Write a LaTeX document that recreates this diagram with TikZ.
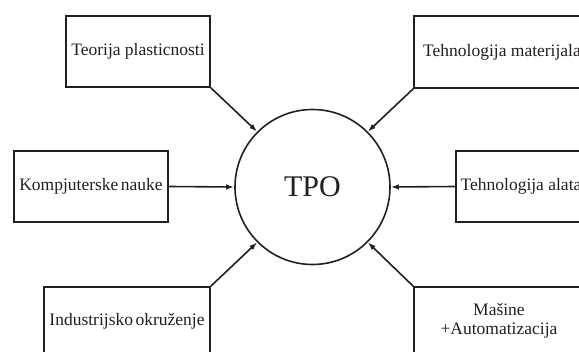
\documentclass[tikz,border=0pt]{standalone}
\usepackage{fontspec}
\setmainfont{Liberation Serif}
\usetikzlibrary{arrows.meta}
\definecolor{ink}{HTML}{231F20}
\tikzset{
  box/.style={draw=ink, line width=1.6pt, rectangle, inner sep=0pt, text=ink,
    font=\fontsize{17.5}{20}\selectfont, align=center},
  hub/.style={draw=ink, line width=1.6pt, circle, minimum size=155pt, inner sep=0pt,
    text=ink, font=\fontsize{30}{34}\selectfont},
  conn/.style={draw=ink, line width=1.6pt, -{Latex[length=8pt,width=5.5pt]}}
}
\begin{document}
\begin{tikzpicture}[x=1pt,y=-1pt]
\useasboundingbox (0,0) rectangle (579,352);
\clip (0,0) rectangle (579,352);
\node[hub] (c) at (312.5,187) {TPO};
\node[box, minimum width=144pt, minimum height=71pt] (b1) at (138,51.5) {Teorija plasticnosti};
\node[box, minimum width=176pt, minimum height=72pt] (b2) at (502,52) {Tehnologija materijala};
\node[box, minimum width=154pt, minimum height=71pt] (b3) at (91,186.5) {Kompjuterske\hspace{2.5pt}nauke};
\node[box, minimum width=130pt, minimum height=71pt] (b4) at (521,186.5) {Tehnologija alata};
\node[box, minimum width=166pt, minimum height=68pt] (b5) at (127,321) {Industrijsko\hspace{2.5pt}okruženje};
\node[box, minimum width=170pt, minimum height=68pt] (b6) at (499,321) {Mašine\\[-1pt]+Automatizacija};
\draw[conn] (b1.south east) -- (c.135);
\draw[conn] (b2.south west) -- (c.45);
\draw[conn] (b3.east) -- (c.west);
\draw[conn] (b4.west) -- (c.east);
\draw[conn] (b5.north east) -- (c.225);
\draw[conn] (b6.north west) -- (c.315);
\end{tikzpicture}
\end{document}
